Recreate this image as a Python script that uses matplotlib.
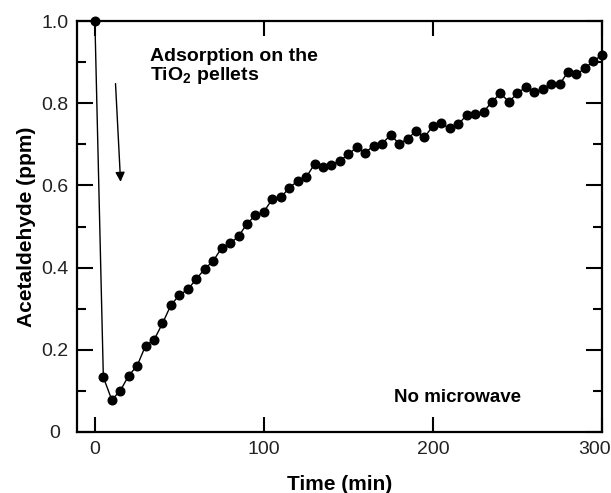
import matplotlib
matplotlib.use("Agg")
import matplotlib.pyplot as plt
from matplotlib.ticker import MultipleLocator
from matplotlib.transforms import ScaledTranslation

plt.rcParams['font.family'] = ['Liberation Sans', 'DejaVu Sans']
plt.rcParams['mathtext.fontset'] = 'custom'
plt.rcParams['mathtext.rm'] = 'Liberation Sans'
plt.rcParams['mathtext.bf'] = 'Liberation Sans:bold'

time_min = list(range(0, 301, 5))
acetaldehyde = [
    1.000, 0.133, 0.078, 0.100, 0.137, 0.161, 0.210, 0.224, 0.264, 0.309,
    0.333, 0.347, 0.372, 0.397, 0.416, 0.448, 0.459, 0.476, 0.507, 0.527,
    0.536, 0.567, 0.571, 0.594, 0.611, 0.620, 0.652, 0.646, 0.651, 0.660,
    0.676, 0.693, 0.680, 0.697, 0.702, 0.723, 0.702, 0.713, 0.733, 0.717,
    0.745, 0.751, 0.739, 0.749, 0.771, 0.774, 0.779, 0.804, 0.824, 0.804,
    0.824, 0.840, 0.827, 0.835, 0.847, 0.846, 0.877, 0.871, 0.885, 0.903,
    0.917,
]
x_ticks = [0, 100, 200, 300]
y_ticks = [0, 0.2, 0.4, 0.6, 0.8, 1.0]
y_tick_labels = ["0", "0.2", "0.4", "0.6", "0.8", "1.0"]

fig = plt.figure(figsize=(6.11, 4.93), dpi=100)
ax = fig.add_axes([0.126, 0.124, 0.859, 0.833])

ax.plot(time_min, acetaldehyde, color='black', lw=1.0, marker='o',
        ms=6.2, mfc='black', mec='black', clip_on=False, zorder=3)

ax.set_xlim(-10.6, 300)
ax.set_ylim(0, 1.0)
ax.set_xticks(x_ticks)
ax.set_yticks(y_ticks)
ax.set_yticklabels(y_tick_labels)
ax.yaxis.set_minor_locator(MultipleLocator(0.1))

for s in ax.spines.values():
    s.set_linewidth(1.6)

ax.tick_params(axis='both', which='major', direction='in', width=1.5,
               labelsize=14, colors='black', labelcolor='#222222')
ax.tick_params(axis='y', which='major', length=11.5, left=True, right=True, pad=16)
ax.tick_params(axis='y', which='minor', direction='in', length=6.5, width=1.5,
               left=True, right=True)
ax.tick_params(axis='x', which='major', length=11, top=True, bottom=True, pad=6.5)
for lab in ax.get_yticklabels():
    lab.set_horizontalalignment('center')
last = ax.get_xticklabels()[-1]
last.set_transform(last.get_transform() + ScaledTranslation(-7 / 100, 0, fig.dpi_scale_trans))

ax.set_xlabel('Time (min)', fontsize=15, fontweight='bold', labelpad=12)
ax.set_ylabel('Acetaldehyde (ppm)', fontsize=15, fontweight='bold', labelpad=4)

ax.text(32.5, 0.934, 'Adsorption on the\nTiO$_\\mathbf{2}$ pellets', fontsize=14,
        fontweight='bold', ha='left', va='top', linespacing=1.0)
ax.text(214.5, 0.073, 'No microwave', fontsize=13.5, fontweight='bold',
        ha='center', va='baseline')

ax.annotate('', xy=(15.2, 0.609), xytext=(12.2, 0.848),
            arrowprops=dict(arrowstyle='-|>', color='black', lw=1.0,
                            mutation_scale=14, shrinkA=0, shrinkB=0))

fig.savefig('out.png', dpi=100)
